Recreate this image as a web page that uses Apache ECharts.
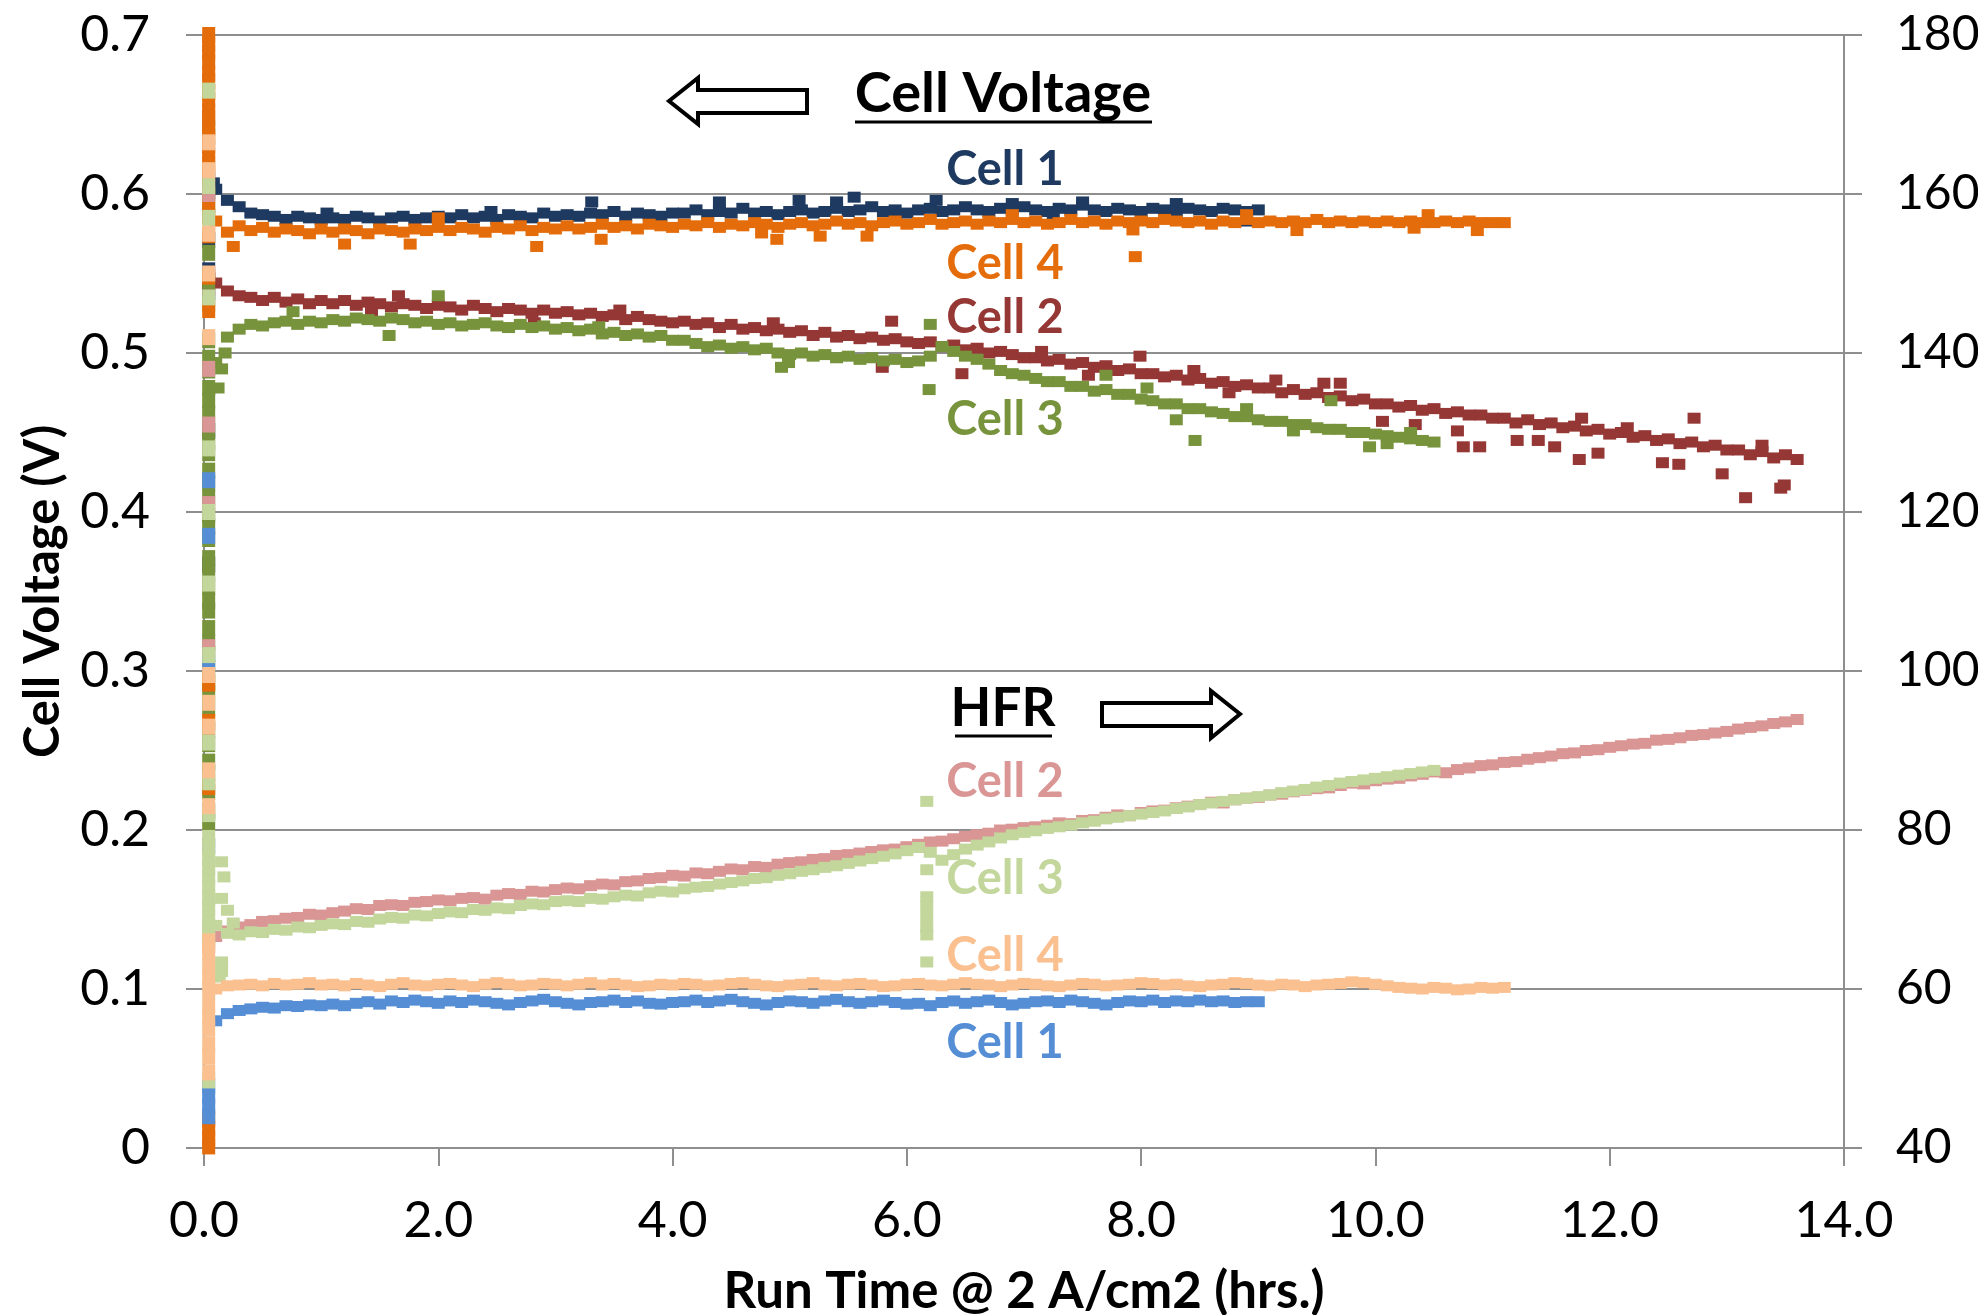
<!DOCTYPE html>
<html>
<head>
<meta charset="utf-8">
<script src="https://cdn.jsdelivr.net/npm/echarts@6/dist/echarts.min.js"></script>
<style>
html,body{margin:0;padding:0;background:#fff;}
#chart{width:1978px;height:1315px;}
</style>
</head>
<body>
<div id="chart"></div>
<script>
// ---------------- data ----------------
const X_TICKS = [0, 2, 4, 6, 8, 10, 12, 14];
const LEFT_TICKS = [0, 0.1, 0.2, 0.3, 0.4, 0.5, 0.6, 0.7];
const RIGHT_TICKS = [40, 60, 80, 100, 120, 140, 160, 180];

// run time (hrs) sampling shared by all series
const TIME = [
0.1,0.2,0.3,0.4,0.5,0.6,0.7,0.8,0.9,1.0,
1.1,1.2,1.3,1.4,1.5,1.6,1.7,1.8,1.9,2.0,
2.1,2.2,2.3,2.4,2.5,2.6,2.7,2.8,2.9,3.0,
3.1,3.2,3.3,3.4,3.5,3.6,3.7,3.8,3.9,4.0,
4.1,4.2,4.3,4.4,4.5,4.6,4.7,4.8,4.9,5.0,
5.1,5.2,5.3,5.4,5.5,5.6,5.7,5.8,5.9,6.0,
6.1,6.2,6.3,6.4,6.5,6.6,6.7,6.8,6.9,7.0,
7.1,7.2,7.3,7.4,7.5,7.6,7.7,7.8,7.9,8.0,
8.1,8.2,8.3,8.4,8.5,8.6,8.7,8.8,8.9,9.0,
9.1,9.2,9.3,9.4,9.5,9.6,9.7,9.8,9.9,10.0,
10.1,10.2,10.3,10.4,10.5,10.6,10.7,10.8,10.9,11.0,
11.1,11.2,11.3,11.4,11.5,11.6,11.7,11.8,11.9,12.0,
12.1,12.2,12.3,12.4,12.5,12.6,12.7,12.8,12.9,13.0,
13.1,13.2,13.3,13.4,13.5,13.6
];
const START_T = 0.04;   // start-up transient column

// Cell voltage (V), left axis
const V_CELL1 = [
0.603,0.596,0.592,0.588,0.587,0.586,0.584,0.586,0.585,0.584,
0.585,0.584,0.586,0.585,0.583,0.585,0.586,0.584,0.585,0.586,
0.585,0.587,0.585,0.586,0.584,0.587,0.586,0.585,0.588,0.586,
0.587,0.586,0.588,0.587,0.589,0.586,0.588,0.587,0.586,0.588,
0.588,0.590,0.587,0.589,0.588,0.591,0.588,0.589,0.587,0.589,
0.590,0.588,0.589,0.591,0.589,0.590,0.592,0.589,0.590,0.588,
0.590,0.591,0.589,0.590,0.592,0.590,0.589,0.591,0.590,0.592,
0.590,0.589,0.591,0.590,0.593,0.590,0.589,0.591,0.590,0.589,
0.591,0.590,0.589,0.591,0.590,0.589,0.591,0.590,0.589,0.590
];
const V_CELL2 = [
0.544,0.539,0.536,0.535,0.533,0.535,0.532,0.534,0.531,0.533,
0.531,0.533,0.530,0.532,0.531,0.529,0.531,0.530,0.528,0.530,
0.529,0.527,0.530,0.528,0.526,0.528,0.527,0.525,0.527,0.525,
0.526,0.524,0.525,0.523,0.524,0.521,0.523,0.521,0.520,0.519,
0.520,0.518,0.519,0.516,0.518,0.515,0.516,0.514,0.515,0.513,
0.514,0.511,0.513,0.510,0.511,0.509,0.510,0.508,0.509,0.507,
0.506,0.507,0.504,0.505,0.502,0.503,0.500,0.501,0.499,0.497,
0.497,0.495,0.496,0.493,0.494,0.491,0.492,0.489,0.490,0.487,
0.487,0.485,0.486,0.483,0.484,0.481,0.482,0.479,0.480,0.478,
0.478,0.475,0.477,0.474,0.475,0.472,0.473,0.470,0.471,0.468,
0.468,0.466,0.467,0.464,0.465,0.462,0.463,0.461,0.461,0.459,
0.459,0.456,0.458,0.455,0.456,0.453,0.454,0.451,0.452,0.449,
0.450,0.447,0.448,0.445,0.446,0.443,0.444,0.441,0.442,0.439,
0.439,0.436,0.438,0.434,0.436,0.433
];
const V_CELL3 = [
0.494,0.510,0.515,0.518,0.517,0.519,0.520,0.518,0.520,0.519,
0.521,0.520,0.522,0.521,0.520,0.522,0.521,0.519,0.520,0.518,
0.519,0.517,0.518,0.519,0.517,0.516,0.518,0.516,0.517,0.515,
0.516,0.514,0.515,0.512,0.513,0.511,0.512,0.510,0.511,0.508,
0.508,0.506,0.504,0.505,0.503,0.504,0.502,0.503,0.500,0.499,
0.500,0.498,0.499,0.497,0.498,0.496,0.497,0.495,0.496,0.494,
0.495,0.498,0.504,0.501,0.498,0.496,0.493,0.489,0.487,0.486,
0.484,0.482,0.482,0.479,0.479,0.476,0.477,0.474,0.474,0.471,
0.470,0.468,0.468,0.465,0.465,0.463,0.462,0.460,0.460,0.458,
0.457,0.457,0.455,0.455,0.453,0.452,0.452,0.450,0.450,0.449,
0.448,0.447,0.446,0.445,0.444
];
const V_CELL4 = [
0.583,0.576,0.580,0.577,0.579,0.576,0.578,0.577,0.575,0.578,
0.576,0.578,0.577,0.575,0.578,0.577,0.576,0.578,0.577,0.579,
0.577,0.579,0.578,0.576,0.579,0.578,0.580,0.577,0.579,0.578,
0.580,0.578,0.579,0.581,0.579,0.580,0.578,0.581,0.580,0.579,
0.581,0.580,0.582,0.579,0.581,0.580,0.582,0.581,0.579,0.581,
0.582,0.580,0.581,0.583,0.581,0.582,0.580,0.582,0.583,0.581,
0.582,0.584,0.581,0.582,0.583,0.581,0.583,0.582,0.584,0.582,
0.583,0.581,0.582,0.584,0.582,0.583,0.581,0.583,0.582,0.583,
0.582,0.584,0.583,0.582,0.583,0.581,0.583,0.582,0.584,0.582,
0.583,0.582,0.583,0.582,0.584,0.582,0.583,0.582,0.583,0.582,
0.583,0.582,0.583,0.582,0.582,0.583,0.582,0.583,0.582,0.582,
0.582
];

// scattered voltage readings [hrs, V]
const V_CELL1_OUT = [[0.08,0.607],[1.05,0.588],[2.45,0.589],[3.31,0.595],[4.40,0.595],[5.08,0.596],[5.40,0.595],[5.55,0.598],[6.25,0.596],[6.90,0.594],[7.50,0.595],[8.30,0.594],[8.90,0.583],[5.90,0.584],[7.25,0.587]];
const V_CELL2_OUT = [[1.43,0.526],[1.66,0.536],[2.82,0.519],[3.55,0.527],[4.86,0.519],[5.79,0.491],[5.87,0.520],[6.47,0.487],[7.15,0.501],[7.55,0.486],[7.99,0.498],[8.45,0.489],[8.75,0.475],[9.15,0.483],[9.56,0.481],[9.70,0.481],[10.06,0.457],[10.34,0.455],[10.70,0.451],[10.75,0.441],[10.89,0.441],[11.21,0.445],[11.39,0.445],[11.53,0.441],[11.74,0.433],[11.76,0.459],[11.90,0.437],[12.15,0.453],[12.45,0.431],[12.59,0.430],[12.72,0.459],[12.96,0.424],[13.16,0.409],[13.30,0.442],[13.46,0.415],[13.49,0.417]];
const V_CELL3_OUT = [[0.12,0.478],[0.15,0.490],[0.18,0.500],[0.76,0.526],[1.58,0.511],[2.00,0.536],[3.37,0.5165],[4.93,0.491],[4.99,0.494],[6.19,0.477],[6.20,0.518],[7.70,0.486],[8.05,0.478],[8.30,0.458],[8.46,0.445],[8.90,0.465],[9.30,0.451],[9.62,0.470],[9.95,0.441],[10.10,0.443],[10.30,0.450]];
const V_CELL4_OUT = [[0.25,0.567],[1.20,0.5685],[1.76,0.5685],[2.84,0.567],[3.39,0.5715],[4.76,0.5755],[4.89,0.5715],[5.26,0.5735],[5.66,0.5735],[7.93,0.5774],[7.95,0.5606],[9.33,0.577],[10.33,0.5785],[10.87,0.577],[2.00,0.585],[10.45,0.587],[6.90,0.587],[8.90,0.587]];

// start-up column values
const V_CELL1_START = [0.609,0.602,0.571,0.552,0.538,0.451,0.367];
const V_CELL2_START = [0.546,0.541];
const V_CELL3_START = [0.642,0.598,0.588,0.563,0.545,0.531,0.508,0.497,0.489,0.478,0.470,0.462,0.452,0.444,0.437,0.426,0.418,0.409,0.398,0.391,0.383,0.371,0.362,0.353,0.344,0.338,0.327,0.318,0.311,0.302,0.293,0.286,0.276,0.263,0.254,0.243,0.236,0.224,0.212,0.205];
const V_CELL4_START = [0.700,0.694,0.689,0.683,0.676,0.671,0.664,0.659,0.652,0.648,0.641,0.636,0.630,0.624,0.619,0.613,0.604,0.593,0.586,0.574,0.548,0.527,0.292,0.268,0.227,0.018,0.012,0.006,0.001];

// HFR (mOhm cm2), right axis
const HFR_CELL1 = [
56.0,56.9,57.3,57.5,57.7,57.6,57.9,57.8,58.0,57.9,
58.1,57.9,58.2,58.4,58.1,58.5,58.3,58.6,58.4,58.2,
58.5,58.3,58.6,58.4,58.2,58.0,58.3,58.5,58.7,58.4,
58.2,58.0,58.3,58.4,58.6,58.3,58.5,58.2,58.1,58.3,
58.4,58.6,58.3,58.5,58.7,58.4,58.2,58.0,58.3,58.5,
58.4,58.2,58.5,58.7,58.4,58.2,58.4,58.6,58.3,58.1,
58.2,57.9,58.3,58.5,58.2,58.4,58.6,58.3,58.0,58.2,
58.4,58.5,58.3,58.6,58.4,58.2,58.0,58.3,58.5,58.4,
58.6,58.3,58.5,58.4,58.6,58.4,58.5,58.3,58.4,58.4
];
const HFR_CELL2 = [
66.6,67.3,67.8,68.1,68.5,68.6,68.9,69.0,69.4,69.3,
69.6,69.8,70.1,70.0,70.5,70.6,70.5,70.9,71.0,71.2,
71.1,71.4,71.5,71.3,71.8,72.0,71.9,72.3,72.2,72.5,
72.7,72.6,73.0,73.2,73.1,73.5,73.6,73.9,74.0,74.3,
74.2,74.6,74.5,74.8,75.1,75.0,75.4,75.3,75.7,75.9,
76.0,76.3,76.4,76.8,76.9,77.1,77.3,77.5,77.6,77.9,
78.2,78.5,78.6,78.9,79.2,79.4,79.6,80.0,80.1,80.3,
80.4,80.6,80.9,80.8,81.2,81.3,81.6,81.9,81.8,82.2,
82.4,82.5,82.8,83.0,83.2,83.5,83.4,83.8,84.0,84.1,
84.4,84.5,84.8,85.0,85.2,85.3,85.6,85.9,85.8,86.2,
86.4,86.5,86.8,87.0,87.3,87.2,87.6,87.8,88.1,88.2,
88.5,88.6,88.9,89.1,89.3,89.6,89.7,90.0,90.1,90.4,
90.6,90.8,90.9,91.3,91.4,91.6,91.9,92.0,92.2,92.4,
92.7,92.9,93.1,93.4,93.6,93.9
];
const HFR_CELL3 = [
68.0,67.0,66.8,67.2,67.1,67.5,67.4,67.8,67.7,68.0,
68.2,68.1,68.5,68.4,68.8,69.0,68.9,69.3,69.2,69.5,
69.7,69.6,70.0,69.9,70.2,70.1,70.5,70.7,70.6,71.0,
71.1,71.0,71.4,71.3,71.6,71.8,71.7,72.1,72.3,72.2,
72.6,72.8,72.9,73.2,73.4,73.6,73.9,74.0,74.3,74.5,
74.8,75.0,75.3,75.5,75.8,76.1,76.4,76.7,77.0,77.4,
77.8,77.2,76.2,76.9,77.6,78.1,78.5,79.0,79.4,79.7,
79.9,80.2,80.4,80.6,80.9,81.1,81.4,81.6,81.8,82.0,
82.2,82.4,82.7,82.9,83.2,83.4,83.6,83.8,84.0,84.2,
84.4,84.7,84.9,85.1,85.4,85.6,85.9,86.1,86.3,86.5,
86.7,86.9,87.1,87.3,87.5
];
const HFR_CELL4 = [
60.0,60.4,60.5,60.6,60.4,60.7,60.5,60.6,60.8,60.5,
60.6,60.4,60.7,60.5,60.3,60.6,60.8,60.5,60.4,60.6,
60.7,60.5,60.3,60.6,60.8,60.6,60.4,60.5,60.7,60.6,
60.4,60.6,60.8,60.5,60.7,60.5,60.3,60.4,60.6,60.5,
60.7,60.6,60.4,60.5,60.7,60.8,60.6,60.4,60.3,60.5,
60.6,60.8,60.5,60.4,60.6,60.7,60.5,60.3,60.4,60.6,
60.7,60.5,60.4,60.6,60.8,60.6,60.5,60.3,60.5,60.7,
60.6,60.4,60.3,60.5,60.7,60.6,60.4,60.5,60.6,60.8,
60.7,60.5,60.6,60.4,60.3,60.5,60.6,60.8,60.7,60.5,
60.4,60.6,60.5,60.3,60.5,60.6,60.7,60.9,60.8,60.6,
60.4,60.2,60.1,60.0,60.2,60.1,59.9,60.0,60.2,60.1,
60.2
];
const HFR_CELL3_OUT = [[0.15,76.0],[0.17,74.1],[0.15,71.4],[0.20,69.9],[0.25,68.3],[0.15,63.4],[0.15,62.2],[0.13,61.5],
  [6.17,83.6],[6.17,75.0],[6.17,71.6],[6.17,70.4],[6.17,69.1],[6.17,67.8],[6.17,66.8],[6.17,63.4]];
const HFR_CELL1_START = [44.0,45.3,46.5,47.8,78.0,101.0,117.0,124.0];
const HFR_CELL2_START = [65.5,67.0,103.0,121.0,131.0,138.0,160.0];
const HFR_CELL3_START = [48.5,66.5,67.8,69.0,70.3,71.5,72.8,74.0,75.3,76.5,77.8,79.0,82.0,86.0,91.0,102.0,111.0,120.0,128.0,147.0,157.0,161.0,173.0];
const HFR_CELL4_START = [49.5,51.5,53.0,55.0,56.5,58.0,60.0,61.5,63.0,64.5,66.0,83.0,87.5,93.0,96.0,99.5,142.0,150.0,155.0,163.0,166.5];

// ---------------- build ----------------
function pts(vals, extra, start) {
  const d = vals.map((v, i) => [TIME[i], v]);
  (extra || []).forEach(p => d.push(p));
  (start || []).forEach(v => d.push([START_T, v]));
  return d;
}
const C = {
  v1:'#1F3A60', v2:'#953735', v3:'#77933C', v4:'#E46C0A',
  h1:'#558ED5', h2:'#D99694', h3:'#C3D69B', h4:'#FAC090'
};
const FONT = 'Lato, "Open Sans", sans-serif';
function sc(name, color, yIdx, data) {
  return {
    name, type:'scatter', yAxisIndex:yIdx, data,
    symbol:'rect',
    symbolSize: v => (v[0] === START_T ? [13, 16] : [13, 11]),
    itemStyle:{color, opacity:1},
    emphasis:{disabled:true}, silent:true, animation:false
  };
}
const gray = '#8e8e8e';
const chart = echarts.init(document.getElementById('chart'), null, {renderer:'canvas'});

function txt(x, y, text, color, size, bold) {
  return {type:'text', x, y, silent:true, z:100,
    style:{text, fill:color, font:(bold?'bold ':'')+size+'px '+FONT,
      align:'center', verticalAlign:'middle', textAlign:'center', textVerticalAlign:'middle'}};
}
const arrowStyle = {fill:'#fff', stroke:'#000', lineWidth:4, lineJoin:'miter'};

chart.setOption({
  backgroundColor:'#fff',
  animation:false,
  grid:{left:204, right:134, top:35, bottom:167, containLabel:false, outerBoundsMode:'none'},
  xAxis:{
    type:'value', min:X_TICKS[0], max:X_TICKS[X_TICKS.length-1], interval:2,
    name:'Run Time @ 2 A/cm2 (hrs.)', nameLocation:'middle', nameGap:118,
    nameTextStyle:{fontFamily:FONT, fontWeight:'bold', fontSize:51, color:'#000'},
    axisLine:{show:true, onZero:false, lineStyle:{color:gray, width:2}},
    axisTick:{show:true, length:18, lineStyle:{color:gray, width:2}},
    axisLabel:{margin:48, fontFamily:FONT, fontSize:50, color:'#000',
      formatter:v => Number(v).toFixed(1)},
    splitLine:{show:false}
  },
  yAxis:[{
    type:'value', min:LEFT_TICKS[0], max:LEFT_TICKS[LEFT_TICKS.length-1], interval:0.1,
    position:'left',
    name:'Cell Voltage (V)', nameLocation:'middle', nameGap:136, nameRotate:90,
    nameTextStyle:{fontFamily:FONT, fontWeight:'bold', fontSize:49, color:'#000'},
    axisLine:{show:true, lineStyle:{color:gray, width:2}},
    axisTick:{show:true, length:18, lineStyle:{color:gray, width:2}},
    axisLabel:{margin:54, fontFamily:FONT, fontSize:50, color:'#000',
      formatter:v => { const n = Math.round(v*10)/10; return n === 0 ? '0' : n.toFixed(1); }},
    splitLine:{show:true, lineStyle:{color:gray, width:2}}
  },{
    type:'value', min:RIGHT_TICKS[0], max:RIGHT_TICKS[RIGHT_TICKS.length-1], interval:20,
    position:'right',
    axisLine:{show:true, lineStyle:{color:gray, width:2}},
    axisTick:{show:true, length:18, lineStyle:{color:gray, width:2}},
    axisLabel:{margin:52, fontFamily:FONT, fontSize:48, color:'#000',
      formatter:v => String(Math.round(v))},
    splitLine:{show:false}
  }],
  series:[
    sc('Cell 1 Voltage', C.v1, 0, pts(V_CELL1, V_CELL1_OUT, V_CELL1_START)),
    sc('Cell 2 Voltage', C.v2, 0, pts(V_CELL2, V_CELL2_OUT, V_CELL2_START)),
    sc('Cell 3 Voltage', C.v3, 0, pts(V_CELL3, V_CELL3_OUT, V_CELL3_START)),
    sc('Cell 4 Voltage', C.v4, 0, pts(V_CELL4, V_CELL4_OUT, V_CELL4_START)),
    sc('Cell 1 HFR', C.h1, 1, pts(HFR_CELL1, [], HFR_CELL1_START)),
    sc('Cell 2 HFR', C.h2, 1, pts(HFR_CELL2, [], HFR_CELL2_START)),
    sc('Cell 3 HFR', C.h3, 1, pts(HFR_CELL3, HFR_CELL3_OUT, HFR_CELL3_START)),
    sc('Cell 4 HFR', C.h4, 1, pts(HFR_CELL4, [], HFR_CELL4_START))
  ],
  graphic:[
    txt(1003, 94, 'Cell Voltage', '#000', 56, true),
    {type:'line', silent:true, shape:{x1:855, y1:122, x2:1152, y2:122}, style:{stroke:'#000', lineWidth:3}},
    {type:'polygon', silent:true, shape:{points:[[669,101],[698,78],[698,90],[807,90],[807,113],[698,113],[698,124]]}, style:arrowStyle},
    txt(1005, 170, 'Cell 1', C.v1, 47, true),
    txt(1005, 264, 'Cell 4', C.v4, 47, true),
    txt(1005, 318, 'Cell 2', C.v2, 47, true),
    txt(1005, 420, 'Cell 3', C.v3, 47, true),
    txt(1003, 709, 'HFR', '#000', 53, true),
    {type:'line', silent:true, shape:{x1:955, y1:736, x2:1052, y2:736}, style:{stroke:'#000', lineWidth:3}},
    {type:'polygon', silent:true, shape:{points:[[1240,714],[1211,691],[1211,703],[1102,703],[1102,726],[1211,726],[1211,738]]}, style:arrowStyle},
    txt(1005, 782, 'Cell 2', C.h2, 47, true),
    txt(1005, 879, 'Cell 3', C.h3, 47, true),
    txt(1005, 956, 'Cell 4', C.h4, 47, true),
    txt(1005, 1043, 'Cell 1', C.h1, 47, true)
  ]
});
</script>
</body>
</html>
